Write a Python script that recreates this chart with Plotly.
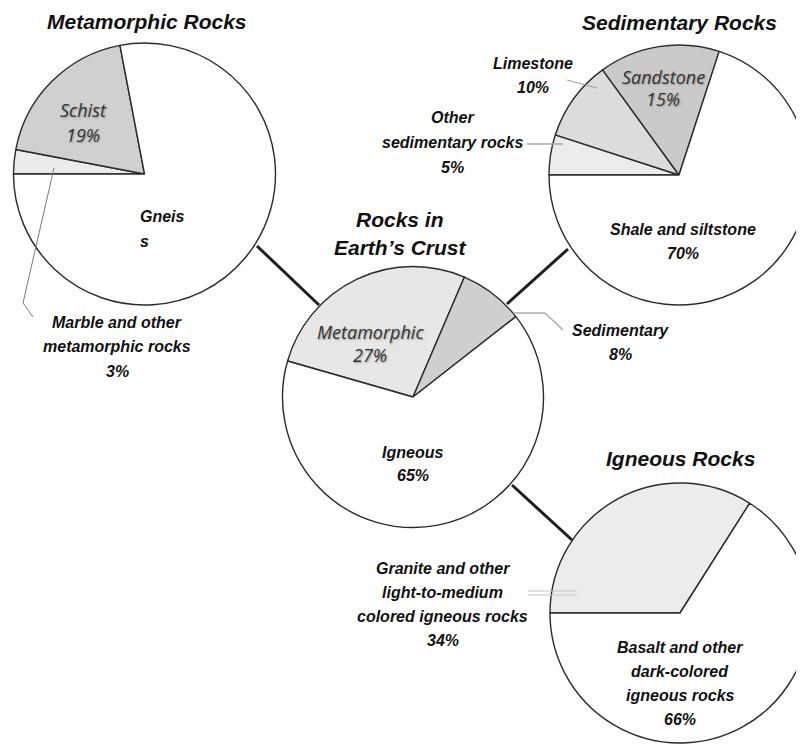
import plotly.graph_objects as go

W, H = 804, 744
PAGE_OFFSET = 8  # the page body margin shifts the figure by this many pixels

# ---------------- data ----------------
meta_labels = ["Marble and other\nmetamorphic rocks", "Schist", "Gneis\ns"]
meta_values = [3, 19, 78]

sed_labels = ["Other\nsedimentary rocks", "Limestone", "Sandstone", "Shale and siltstone"]
sed_values = [5, 10, 15, 70]

crust_labels = ["Metamorphic", "Sedimentary", "Igneous"]
crust_values = [27, 8, 65]

ign_labels = ["Granite and other\nlight-to-medium\ncolored igneous rocks",
              "Basalt and other\ndark-colored\nigneous rocks"]
ign_values = [34, 66]

chart_titles = ["Metamorphic Rocks", "Sedimentary Rocks", "Rocks in\nEarth’s Crust", "Igneous Rocks"]

# ---------------- styles ----------------
meta_colors = ["#ebebeb", "#d0d0d0", "#ffffff"]
sed_colors = ["#ececec", "#dcdcdc", "#cacaca", "#ffffff"]
crust_colors = ["#e7e7e7", "#cfcfcf", "#ffffff"]
ign_colors = ["#ececec", "#ffffff"]

OUTLINE = dict(color="#2b2b2b", width=1.4)
BOLD = dict(family="Liberation Sans, Arial, sans-serif", size=16, color="#111111",
            weight="bold", style="italic")
TITLE = dict(family="Liberation Sans, Arial, sans-serif", size=21, color="#111111",
             weight="bold", style="italic")
SOFT = dict(family="Open Sans, sans-serif", size=18, color="#333333", style="italic",
            shadow="1px 1px 2px #9a9a9a")


def fx(x):
    return (x - PAGE_OFFSET) / W


def fy(y):
    return 1 - (y - PAGE_OFFSET) / H


def dom(cx, cy, r):
    return dict(x=[max(fx(cx - r), 0), min(fx(cx + r), 1)],
                y=[max(fy(cy + r), 0), min(fy(cy - r), 1)])


fig = go.Figure()


def add_pie(labels, values, colors, domain, rotation):
    fig.add_trace(go.Pie(
        labels=[l.replace("\n", " ") for l in labels], values=values,
        marker=dict(colors=colors, line=OUTLINE),
        domain=domain, sort=False, direction="clockwise", rotation=rotation,
        textinfo="none", showlegend=False, hoverinfo="label+percent",
    ))


add_pie(meta_labels, meta_values, meta_colors, dom(144.5, 174, 131), -90)
add_pie(sed_labels, sed_values, sed_colors, dom(679, 175, 130), -90)
add_pie(crust_labels, crust_values, crust_colors, dom(413, 397, 130.5), -74)
add_pie(ign_labels, ign_values, ign_colors, dom(680, 613, 130), -90)

annotations = []


def add_text(lines, x, y0, dy, font, xanchor="center", yanchor="middle"):
    for i, line in enumerate(lines):
        annotations.append(dict(
            text=line, x=fx(x), y=min(fy(y0 + i * dy), 1), xref="paper", yref="paper",
            xanchor=xanchor, yanchor=yanchor, showarrow=False, font=font,
        ))


# titles
add_text(chart_titles[0].split("\n"), 147, 8, 28, TITLE, yanchor="top")
add_text(chart_titles[1].split("\n"), 679, 9, 28, TITLE, yanchor="top")
add_text(chart_titles[2].split("\n"), 400, 219, 29, TITLE)
add_text(chart_titles[3].split("\n"), 680, 458, 28, TITLE)

# metamorphic pie labels
add_text(meta_labels[0].split("\n") + [f"{meta_values[0]}%"], 117, 323, 24, BOLD)
add_text([meta_labels[1], f"{meta_values[1]}%"], 83, 110, 25, SOFT)
add_text(meta_labels[2].split("\n"), 138, 217, 25, BOLD, xanchor="left")

# sedimentary pie labels
add_text(sed_labels[0].split("\n") + [f"{sed_values[0]}%"], 453, 118, 24.5, BOLD)
add_text([sed_labels[1], f"{sed_values[1]}%"], 533, 63, 24, BOLD)
add_text([sed_labels[2], f"{sed_values[2]}%"], 663, 77, 22, SOFT)
add_text([sed_labels[3], f"{sed_values[3]}%"], 683, 230, 23, BOLD)

# crust pie labels
add_text([crust_labels[0], f"{crust_values[0]}%"], 370, 332, 23, SOFT)
add_text([crust_labels[1], f"{crust_values[1]}%"], 620, 331, 24, BOLD)
add_text([crust_labels[2], f"{crust_values[2]}%"], 413, 452, 23, BOLD)

# igneous pie labels
add_text(ign_labels[0].split("\n") + [f"{ign_values[0]}%"], 443, 568, 24, BOLD)
add_text(ign_labels[1].split("\n") + [f"{ign_values[1]}%"], 680, 647, 24, BOLD)

shapes = []


def seg(pts, color, width):
    for (x0, y0), (x1, y1) in zip(pts[:-1], pts[1:]):
        shapes.append(dict(type="line", xref="paper", yref="paper",
                           x0=fx(x0), y0=fy(y0), x1=fx(x1), y1=fy(y1),
                           line=dict(color=color, width=width), layer="above"))


# connectors between the crust pie and the detail pies
seg([(257, 246), (319, 305)], "#1e1e1e", 3)
seg([(568, 249), (507, 304)], "#1e1e1e", 3)
seg([(512, 485), (572, 540)], "#1e1e1e", 3)

# leader lines
seg([(54, 168), (23, 303), (33, 317)], "#7a7a7a", 1)
seg([(567, 80), (597, 88)], "#9a9a9a", 1)
seg([(527, 144), (563, 144)], "#aaaaaa", 1.5)
seg([(513, 313), (545, 313), (563, 330)], "#aaaaaa", 1.5)
seg([(528, 591), (577, 591)], "#c4c4c4", 1)
seg([(528, 595), (577, 595)], "#c4c4c4", 1)

fig.update_layout(
    width=W, height=H, margin=dict(l=0, r=0, t=0, b=0),
    paper_bgcolor="white", plot_bgcolor="white",
    annotations=annotations, shapes=shapes, showlegend=False,
)

fig.write_html("out.html")
